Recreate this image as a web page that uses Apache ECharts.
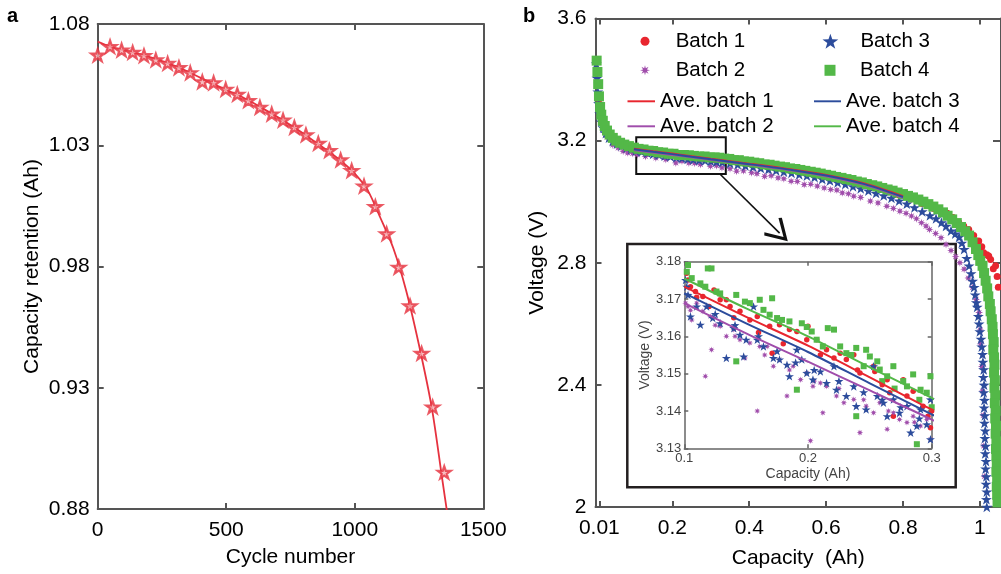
<!DOCTYPE html>
<html>
<head>
<meta charset="utf-8">
<script src="https://cdn.jsdelivr.net/npm/echarts@6/dist/echarts.min.js"></script>
<style>
html, body { margin: 0; padding: 0; background: #fff; }
#chart { width: 1001px; height: 574px; }
</style>
</head>
<body>
<div id="chart"></div>
<script>
// panel a: capacity retention vs cycle number
var cycleNumbers = [0, 48, 93, 136, 180, 226, 272, 316, 360, 407, 451, 498, 543, 586, 631, 677, 721, 765, 810, 858, 901, 945, 988, 1036, 1080, 1124, 1171, 1215, 1260, 1303, 1348];
var capacityRetention = [1.0672, 1.0707, 1.0693, 1.0683, 1.0670, 1.0652, 1.0638, 1.0620, 1.0599, 1.0562, 1.0558, 1.0531, 1.0510, 1.0484, 1.0457, 1.0429, 1.0404, 1.0374, 1.0343, 1.0308, 1.0278, 1.0240, 1.0196, 1.0132, 1.0047, 0.9935, 0.9797, 0.9638, 0.9442, 0.9221, 0.8951];
var fitCycles = [0, 50, 100, 150, 200, 250, 300, 350, 400, 450, 500, 550, 600, 650, 700, 750, 800, 850, 900, 950, 1000, 1050, 1100, 1150, 1200, 1250, 1300, 1340, 1365];
var fitCapacity = [1.0727, 1.0706, 1.0692, 1.0679, 1.0664, 1.0647, 1.0627, 1.0604, 1.0578, 1.0553, 1.0528, 1.0505, 1.0477, 1.0447, 1.0416, 1.0383, 1.0348, 1.0310, 1.0273, 1.0232, 1.0183, 1.0115, 1.0000, 0.9875, 0.9700, 0.9475, 0.9215, 0.8925, 0.8745];
var retentionTicks = [0.88, 0.93, 0.98, 1.03, 1.08];

// panel b: discharge curves [capacity, voltage]
var batch1Main = [[0.004,3.43],[0.01,3.32],[0.02,3.258],[0.035,3.215],[0.055,3.198],[0.08,3.183],[0.1,3.174],[0.13,3.168],[0.16,3.161],[0.19,3.156],[0.22,3.151],[0.25,3.147],[0.28,3.142],[0.31,3.138],[0.34,3.134],[0.37,3.129],[0.4,3.125],[0.43,3.12],[0.46,3.115],[0.49,3.109],[0.52,3.103],[0.55,3.096],[0.58,3.089],[0.61,3.082],[0.64,3.074],[0.67,3.065],[0.7,3.056],[0.73,3.046],[0.76,3.035],[0.79,3.022],[0.82,3.009],[0.85,2.994],[0.88,2.978],[0.9,2.968],[0.915,2.962],[0.93,2.948],[0.945,2.932],[0.958,2.92],[0.971,2.909],[0.984,2.889],[0.997,2.871],[1.005,2.852],[1.01,2.833],[1.018,2.826],[1.023,2.822],[1.028,2.811],[1.035,2.78],[1.041,2.79],[1.045,2.755],[1.048,2.72]];
var batch2Main = [[0.012,3.28],[0.03,3.212],[0.045,3.186],[0.059,3.176],[0.072,3.165],[0.084,3.16],[0.097,3.158],[0.109,3.154],[0.13,3.148],[0.157,3.143],[0.183,3.138],[0.209,3.127],[0.225,3.133],[0.243,3.127],[0.258,3.126],[0.273,3.122],[0.299,3.116],[0.315,3.118],[0.329,3.111],[0.35,3.108],[0.367,3.1],[0.385,3.101],[0.406,3.095],[0.42,3.092],[0.44,3.083],[0.457,3.085],[0.475,3.078],[0.49,3.075],[0.509,3.067],[0.525,3.066],[0.543,3.056],[0.56,3.057],[0.577,3.051],[0.595,3.045],[0.612,3.04],[0.628,3.038],[0.642,3.029],[0.658,3.026],[0.672,3.018],[0.69,3.014],[0.715,3.002],[0.735,2.996],[0.758,2.985],[0.775,2.978],[0.792,2.969],[0.808,2.962],[0.822,2.953],[0.835,2.944],[0.848,2.931],[0.86,2.92],[0.869,2.909],[0.885,2.896],[0.899,2.882],[0.912,2.86],[0.925,2.84],[0.937,2.82],[0.948,2.8],[0.959,2.779],[0.97,2.75],[0.981,2.719],[0.99,2.68],[0.998,2.637],[1.001,2.58],[1.002,2.534],[1.005,2.46],[1.007,2.38],[1.009,2.3],[1.01,2.2],[1.012,2.1]];
var batch3Main = [[0.002,3.452],[0.004,3.405],[0.006,3.36],[0.008,3.322],[0.011,3.288],[0.015,3.262],[0.02,3.242],[0.027,3.224],[0.035,3.209],[0.045,3.198],[0.056,3.19],[0.068,3.183],[0.081,3.177],[0.093,3.172],[0.105,3.167],[0.12,3.164],[0.135,3.16],[0.15,3.156],[0.165,3.154],[0.18,3.15],[0.195,3.148],[0.21,3.145],[0.225,3.143],[0.24,3.14],[0.255,3.138],[0.27,3.136],[0.285,3.135],[0.3,3.133],[0.315,3.131],[0.33,3.129],[0.35,3.126],[0.37,3.122],[0.39,3.118],[0.41,3.114],[0.43,3.11],[0.45,3.106],[0.47,3.102],[0.49,3.098],[0.51,3.094],[0.53,3.089],[0.55,3.085],[0.57,3.08],[0.59,3.074],[0.61,3.069],[0.63,3.063],[0.65,3.057],[0.67,3.05],[0.69,3.043],[0.71,3.036],[0.73,3.028],[0.75,3.02],[0.77,3.012],[0.79,3.003],[0.81,2.993],[0.83,2.981],[0.85,2.968],[0.87,2.955],[0.886,2.945],[0.9,2.932],[0.912,2.92],[0.925,2.905],[0.936,2.895],[0.946,2.884],[0.953,2.865],[0.959,2.844],[0.966,2.815],[0.972,2.79],[0.977,2.765],[0.981,2.74],[0.985,2.72],[0.988,2.695],[0.991,2.67],[0.993,2.655],[0.996,2.625],[0.998,2.6],[1.0,2.575],[1.003,2.55],[1.005,2.525],[1.007,2.5],[1.008,2.475],[1.01,2.45],[1.009,2.425],[1.011,2.4],[1.01,2.375],[1.012,2.35],[1.011,2.325],[1.013,2.3],[1.012,2.275],[1.014,2.25],[1.013,2.225],[1.015,2.2],[1.014,2.175],[1.016,2.15],[1.015,2.125],[1.017,2.1],[1.016,2.075],[1.018,2.05],[1.017,2.025],[1.018,2.0]];
var batch4Main = [[0.003,3.462],[0.005,3.425],[0.007,3.385],[0.009,3.345],[0.012,3.31],[0.015,3.285],[0.019,3.265],[0.024,3.248],[0.03,3.233],[0.037,3.22],[0.045,3.209],[0.054,3.2],[0.064,3.193],[0.075,3.187],[0.087,3.182],[0.1,3.177],[0.112,3.173],[0.125,3.171],[0.138,3.167],[0.15,3.166],[0.163,3.162],[0.176,3.161],[0.19,3.157],[0.203,3.157],[0.216,3.153],[0.23,3.153],[0.243,3.152],[0.256,3.15],[0.27,3.148],[0.284,3.148],[0.297,3.145],[0.31,3.145],[0.322,3.144],[0.335,3.141],[0.348,3.14],[0.36,3.136],[0.373,3.136],[0.386,3.132],[0.4,3.131],[0.413,3.128],[0.426,3.126],[0.44,3.122],[0.453,3.121],[0.466,3.118],[0.48,3.115],[0.493,3.113],[0.506,3.109],[0.52,3.107],[0.533,3.104],[0.546,3.101],[0.56,3.098],[0.573,3.095],[0.586,3.092],[0.6,3.088],[0.613,3.085],[0.626,3.081],[0.64,3.078],[0.653,3.074],[0.666,3.071],[0.68,3.066],[0.693,3.063],[0.706,3.058],[0.72,3.054],[0.733,3.05],[0.746,3.045],[0.76,3.04],[0.773,3.036],[0.786,3.03],[0.8,3.025],[0.813,3.019],[0.826,3.014],[0.84,3.007],[0.853,3.0],[0.866,2.992],[0.879,2.984],[0.892,2.975],[0.904,2.965],[0.916,2.954],[0.928,2.942],[0.94,2.93],[0.951,2.917],[0.962,2.903],[0.972,2.889],[0.981,2.867],[0.99,2.845],[0.996,2.825],[1.001,2.806],[1.007,2.79],[1.011,2.766],[1.015,2.741],[1.019,2.716],[1.022,2.69],[1.026,2.665],[1.028,2.641],[1.031,2.615],[1.033,2.59],[1.034,2.566],[1.036,2.54],[1.035,2.515],[1.037,2.49],[1.038,2.466],[1.037,2.44],[1.039,2.415],[1.038,2.39],[1.04,2.366],[1.039,2.34],[1.041,2.315],[1.04,2.29],[1.042,2.266],[1.041,2.24],[1.043,2.215],[1.042,2.19],[1.043,2.166],[1.044,2.14],[1.043,2.115],[1.045,2.09],[1.044,2.066],[1.045,2.04],[1.046,2.015],[1.046,1.995]];

// inset (0.1 - 0.3 Ah)
var batch1Inset = [[0.102,3.1769],[0.103,3.1751],[0.105,3.1733],[0.109,3.172],[0.11,3.1705],[0.115,3.1707],[0.12,3.168],[0.124,3.1724],[0.129,3.1698],[0.134,3.1698],[0.137,3.168],[0.14,3.165],[0.145,3.1667],[0.153,3.1644],[0.159,3.1653],[0.16,3.161],[0.169,3.1627],[0.171,3.1555],[0.177,3.1631],[0.18,3.158],[0.185,3.1618],[0.191,3.1613],[0.2,3.1627],[0.199,3.1591],[0.207,3.1591],[0.21,3.155],[0.215,3.1564],[0.221,3.1542],[0.226,3.1555],[0.231,3.1538],[0.237,3.1551],[0.24,3.151],[0.242,3.1502],[0.253,3.152],[0.254,3.1506],[0.26,3.147],[0.264,3.1484],[0.266,3.1449],[0.269,3.1386],[0.277,3.1484],[0.28,3.144],[0.285,3.1453],[0.293,3.1413],[0.297,3.1386],[0.3,3.14],[0.299,3.1355]];
var batch2Inset = [[0.101,3.1689],[0.103,3.168],[0.105,3.167],[0.106,3.1644],[0.11,3.1689],[0.115,3.1667],[0.117,3.1493],[0.121,3.1653],[0.122,3.1564],[0.125,3.163],[0.129,3.1627],[0.134,3.16],[0.14,3.1618],[0.141,3.16],[0.145,3.1591],[0.149,3.1542],[0.153,3.1582],[0.159,3.14],[0.161,3.1573],[0.165,3.155],[0.167,3.1573],[0.172,3.152],[0.177,3.1538],[0.183,3.144],[0.185,3.151],[0.188,3.152],[0.194,3.1484],[0.199,3.1502],[0.202,3.132],[0.204,3.1466],[0.205,3.148],[0.21,3.1475],[0.212,3.1395],[0.215,3.1466],[0.223,3.144],[0.225,3.146],[0.229,3.1422],[0.237,3.1431],[0.242,3.1342],[0.245,3.143],[0.247,3.1413],[0.253,3.1395],[0.258,3.1422],[0.264,3.1351],[0.265,3.14],[0.269,3.1395],[0.274,3.1377],[0.28,3.1369],[0.285,3.1386],[0.286,3.137],[0.291,3.136],[0.296,3.1377],[0.299,3.1324]];
var batch3Inset = [[0.101,3.1751],[0.102,3.1733],[0.103,3.1711],[0.105,3.1653],[0.11,3.168],[0.113,3.1631],[0.118,3.168],[0.123,3.1649],[0.125,3.166],[0.129,3.1635],[0.134,3.1542],[0.14,3.1622],[0.141,3.163],[0.145,3.1604],[0.148,3.1546],[0.15,3.1591],[0.156,3.168],[0.159,3.1591],[0.16,3.16],[0.164,3.1573],[0.172,3.1542],[0.175,3.156],[0.177,3.1538],[0.183,3.1524],[0.185,3.1493],[0.19,3.153],[0.191,3.1564],[0.195,3.1538],[0.199,3.1502],[0.204,3.1484],[0.205,3.151],[0.21,3.1506],[0.215,3.1475],[0.221,3.152],[0.223,3.1457],[0.225,3.148],[0.231,3.144],[0.237,3.1466],[0.239,3.1413],[0.245,3.145],[0.247,3.1404],[0.253,3.152],[0.256,3.144],[0.26,3.143],[0.261,3.1422],[0.264,3.1386],[0.269,3.1431],[0.274,3.1395],[0.275,3.141],[0.28,3.1413],[0.283,3.1342],[0.288,3.136],[0.29,3.138],[0.291,3.1404],[0.296,3.1364],[0.299,3.1324],[0.299,3.1431]];
var batch4Inset = [[0.102,3.1773],[0.103,3.1791],[0.106,3.1756],[0.113,3.1742],[0.117,3.1733],[0.119,3.1782],[0.122,3.1782],[0.126,3.172],[0.129,3.1715],[0.142,3.1711],[0.142,3.1533],[0.149,3.1693],[0.153,3.1689],[0.161,3.1698],[0.164,3.1671],[0.169,3.1658],[0.171,3.1702],[0.175,3.1649],[0.179,3.1644],[0.185,3.164],[0.191,3.1457],[0.195,3.1635],[0.199,3.1625],[0.203,3.1613],[0.207,3.1591],[0.212,3.1573],[0.216,3.1622],[0.221,3.1618],[0.226,3.1573],[0.231,3.1555],[0.235,3.155],[0.239,3.1569],[0.239,3.1386],[0.245,3.152],[0.247,3.1564],[0.25,3.1546],[0.256,3.1533],[0.258,3.1511],[0.26,3.148],[0.264,3.1493],[0.269,3.152],[0.27,3.146],[0.277,3.148],[0.28,3.1466],[0.285,3.1498],[0.288,3.1311],[0.29,3.143],[0.291,3.1457],[0.296,3.1449],[0.299,3.1493],[0.3,3.141]];

// average curves of each batch
var aveCapacity = [0.1, 0.15, 0.2, 0.25, 0.3, 0.4, 0.5, 0.6, 0.7, 0.8];
var aveBatch1 = [3.1733, 3.1652, 3.1575, 3.1490, 3.1404, 3.1245, 3.1075, 3.0875, 3.0595, 3.0180];
var aveBatch2 = [3.1689, 3.1608, 3.1532, 3.1455, 3.1377, 3.1215, 3.1040, 3.0835, 3.0550, 3.0130];
var aveBatch3 = [3.1716, 3.1635, 3.1558, 3.1474, 3.1391, 3.1230, 3.1058, 3.0858, 3.0575, 3.0155];
var aveBatch4 = [3.1755, 3.1675, 3.1600, 3.1517, 3.1435, 3.1272, 3.1100, 3.0900, 3.0620, 3.0210];

var capacityTicks = [0.01, 0.2, 0.4, 0.6, 0.8, 1];

var red = '#e8262f', purple = '#a04dab', blue = '#2c4c9c', green = '#53b848';
var axisGray = '#555';
var font = 'Liberation Sans, Arial, sans-serif';

function starPath(n, rOut, rIn) {
    var d = '';
    for (var i = 0; i < 2 * n; i++) {
        var r = i % 2 === 0 ? rOut : rIn;
        var a = -Math.PI / 2 + i * Math.PI / n;
        d += (i === 0 ? 'M' : 'L') + (r * Math.cos(a)).toFixed(2) + ',' + (r * Math.sin(a)).toFixed(2);
    }
    return 'path://' + d + 'Z';
}
var starIcon = starPath(5, 10, 3.9);
var asteriskIcon = starPath(8, 10, 4.2);
var squareIcon = 'path://M0,0L10,0L10,10L0,10Z';
var lineIcon = 'path://M0,0L28,0L28,2L0,2Z';
var arrowHead = 'path://M5,0L10,9L9,10L5,2.6L1,10L0,9Z';

function pairs(xs, ys) {
    return xs.map(function (x, i) { return [x, ys[i]]; });
}

// axis index: 0 = panel a, 2 = panel b, 4 = inset (odd ones are the mirrored axes)
function scatter(name, data, idx, symbol, size, color) {
    return {
        name: name, type: 'scatter', xAxisIndex: idx, yAxisIndex: idx,
        data: data, symbol: symbol, symbolSize: size, symbolKeepAspect: true,
        itemStyle: { color: color, opacity: 1 }, silent: true
    };
}
function aveLine(name, vals, idx, color) {
    return {
        name: name, type: 'line', xAxisIndex: idx, yAxisIndex: idx,
        data: pairs(aveCapacity, vals), smooth: 0.3, symbol: 'none',
        lineStyle: { color: color, width: 2 }, itemStyle: { color: color }, z: 5, silent: true
    };
}

// box axes: ticks inside, mirrored on the opposite side
function boxAxis(extra, gridIndex, size, color, width, tickLen) {
    var ax = {
        gridIndex: gridIndex,
        type: 'value',
        axisLine: { show: true, onZero: false, lineStyle: { color: color, width: width } },
        axisTick: { show: true, inside: true, length: tickLen, lineStyle: { color: color, width: width } },
        axisLabel: { show: true, color: size > 15 ? '#000' : '#444', fontSize: size, fontFamily: font },
        splitLine: { show: false },
        nameTextStyle: { color: size > 15 ? '#000' : '#444', fontSize: size > 15 ? 21 : 14, fontFamily: font }
    };
    for (var k in extra) ax[k] = extra[k];
    return ax;
}

function legendItem(name, left, top, w, h, icon) {
    return {
        data: [name], left: left, top: top, itemWidth: w, itemHeight: h, padding: 0,
        selectedMode: false, icon: icon,
        textStyle: { fontSize: 20.5, color: '#000', fontFamily: font }
    };
}

function plain(v) { return String(v); }

var myChart = echarts.init(document.getElementById('chart'));
var option = {
    animation: false,
    backgroundColor: '#fff',
    textStyle: { fontFamily: font },
    title: [
        { text: 'a', left: 7, top: 6, padding: 0, textStyle: { fontSize: 20, fontWeight: 'bold', color: '#000' } },
        { text: 'b', left: 523, top: 6, padding: 0, textStyle: { fontSize: 20, fontWeight: 'bold', color: '#000' } }
    ],
    grid: [
        { left: 97.7, top: 24, width: 385.6, height: 485 },
        { left: 595.5, top: 18.5, width: 410.1, height: 490.8 },
        { left: 684.3, top: 261.7, width: 247.4, height: 186.6 }
    ],
    legend: [
        legendItem('Batch 1', 640.5, 30.7, 51.4, 9, 'circle'),
        legendItem('Batch 2', 640, 59.8, 51.4, 10, asteriskIcon),
        legendItem('Batch 3', 822.5, 30.7, 50, 15, starIcon),
        legendItem('Batch 4', 824.5, 59.8, 50, 11, squareIcon),
        legendItem('Ave. batch 1', 627.5, 90.8, 27.5, 14, lineIcon),
        legendItem('Ave. batch 2', 627.5, 115.8, 27.5, 14, lineIcon),
        legendItem('Ave. batch 3', 814, 90.8, 27, 14, lineIcon),
        legendItem('Ave. batch 4', 814, 115.8, 27, 14, lineIcon)
    ],
    xAxis: [
        boxAxis({ min: 0, max: 1500, interval: 500, position: 'bottom',
            name: 'Cycle number', nameLocation: 'middle', nameGap: 38,
            axisLabel: { show: true, color: '#000', fontSize: 21, fontFamily: font, margin: 11, formatter: plain } }, 0, 21, axisGray, 2, 6),
        boxAxis({ min: 0, max: 1500, interval: 500, position: 'top', axisLabel: { show: false } }, 0, 21, axisGray, 2, 6),
        boxAxis({ min: 0, max: 1.055, position: 'bottom',
            name: 'Capacity  (Ah)', nameLocation: 'middle', nameGap: 41,
            axisLabel: { show: true, color: '#000', fontSize: 21, fontFamily: font, margin: 11, customValues: capacityTicks },
            axisTick: { show: true, inside: true, length: 6, customValues: capacityTicks, lineStyle: { color: axisGray, width: 2 } } }, 1, 21, axisGray, 2, 6),
        boxAxis({ min: 0, max: 1.055, position: 'top', axisLabel: { show: false },
            axisTick: { show: true, inside: true, length: 6, customValues: capacityTicks, lineStyle: { color: axisGray, width: 2 } } }, 1, 21, axisGray, 2, 6),
        boxAxis({ min: 0.1, max: 0.3, interval: 0.1, position: 'bottom',
            name: 'Capacity (Ah)', nameLocation: 'middle', nameGap: 19,
            axisLabel: { show: true, color: '#444', fontSize: 13, fontFamily: font, margin: 4 } }, 2, 13, '#666', 1.5, 4),
        boxAxis({ min: 0.1, max: 0.3, interval: 0.1, position: 'top', axisLabel: { show: false } }, 2, 13, '#666', 1.5, 4)
    ],
    yAxis: [
        boxAxis({ min: 0.88, max: 1.08, position: 'left',
            name: 'Capacity retention (Ah)', nameLocation: 'middle', nameGap: 55,
            axisLabel: { show: true, color: '#000', fontSize: 21, fontFamily: font, margin: 8, customValues: retentionTicks },
            axisTick: { show: true, inside: true, length: 6, customValues: retentionTicks, lineStyle: { color: axisGray, width: 2 } } }, 0, 21, axisGray, 2, 6),
        boxAxis({ min: 0.88, max: 1.08, position: 'right', axisLabel: { show: false },
            axisTick: { show: true, inside: true, length: 6, customValues: retentionTicks, lineStyle: { color: axisGray, width: 2 } } }, 0, 21, axisGray, 2, 6),
        boxAxis({ min: 2, max: 3.6, interval: 0.4, position: 'left',
            name: 'Voltage (V)', nameLocation: 'middle', nameGap: 48,
            axisLabel: { show: true, color: '#000', fontSize: 21, fontFamily: font, margin: 9 } }, 1, 21, axisGray, 2, 6),
        boxAxis({ min: 2, max: 3.6, interval: 0.4, position: 'right', axisLabel: { show: false } }, 1, 21, axisGray, 2, 8),
        boxAxis({ min: 3.13, max: 3.18, interval: 0.01, position: 'left',
            name: 'Voltage (V)', nameLocation: 'middle', nameGap: 30,
            axisLabel: { show: true, color: '#444', fontSize: 13, fontFamily: font, margin: 3 } }, 2, 13, '#666', 1.5, 4),
        boxAxis({ min: 3.13, max: 3.18, interval: 0.01, position: 'right', axisLabel: { show: false } }, 2, 13, '#666', 1.5, 4)
    ],
    graphic: [
        { type: 'rect', shape: { x: 627.3, y: 244, width: 328.4, height: 243.3 },
          style: { fill: 'none', stroke: '#231f20', lineWidth: 2.5 }, silent: true }
    ],
    series: [
        // panel a
        {
            name: 'Fit', type: 'line', xAxisIndex: 0, yAxisIndex: 0,
            data: pairs(fitCycles, fitCapacity), smooth: 0.3, symbol: 'none',
            lineStyle: { color: '#e6323f', width: 1.8 }, silent: true
        },
        {
            name: 'Capacity', type: 'scatter', xAxisIndex: 0, yAxisIndex: 0,
            data: pairs(cycleNumbers, capacityRetention), symbol: starIcon, symbolSize: 13, symbolKeepAspect: true,
            itemStyle: { color: '#f5aeb2', borderColor: '#e6323f', borderWidth: 2.2 }, z: 4, silent: true
        },
        // panel b main
        scatter('Batch 1', batch1Main, 2, 'circle', 7, red),
        scatter('Batch 2', batch2Main, 2, asteriskIcon, 8, purple),
        scatter('Batch 3', batch3Main, 2, starIcon, 11, blue),
        scatter('Batch 4', batch4Main, 2, squareIcon, 10, green),
        aveLine('Ave. batch 4', aveBatch4, 2, green),
        {
            name: 'Ave. batch 1', type: 'line', xAxisIndex: 2, yAxisIndex: 2,
            data: pairs(aveCapacity, aveBatch1), smooth: 0.3, symbol: 'none',
            lineStyle: { color: red, width: 2 }, itemStyle: { color: red }, z: 5, silent: true,
            markArea: {
                silent: true,
                itemStyle: { color: 'rgba(0,0,0,0)', borderColor: '#111', borderWidth: 2 },
                data: [[{ coord: [0.106, 3.211] }, { coord: [0.339, 3.091] }]]
            },
            markLine: {
                silent: true, symbol: ['none', arrowHead], symbolSize: [25, 23],
                label: { show: false },
                lineStyle: { color: '#111', width: 1.6, type: 'solid' },
                data: [[{ coord: [0.325, 3.089] }, { coord: [0.479, 2.897] }]]
            }
        },
        aveLine('Ave. batch 2', aveBatch2, 2, purple),
        aveLine('Ave. batch 3', aveBatch3, 2, blue),
        // inset
        scatter('Batch 1', batch1Inset, 4, 'circle', 5.5, red),
        scatter('Batch 2', batch2Inset, 4, asteriskIcon, 6.5, purple),
        scatter('Batch 3', batch3Inset, 4, starIcon, 9, blue),
        scatter('Batch 4', batch4Inset, 4, squareIcon, 6, green),
        aveLine('Ave. batch 4', aveBatch4, 4, green),
        aveLine('Ave. batch 2', aveBatch2, 4, purple),
        aveLine('Ave. batch 3', aveBatch3, 4, blue),
        aveLine('Ave. batch 1', aveBatch1, 4, red)
    ]
};
myChart.setOption(option);
</script>
</body>
</html>
